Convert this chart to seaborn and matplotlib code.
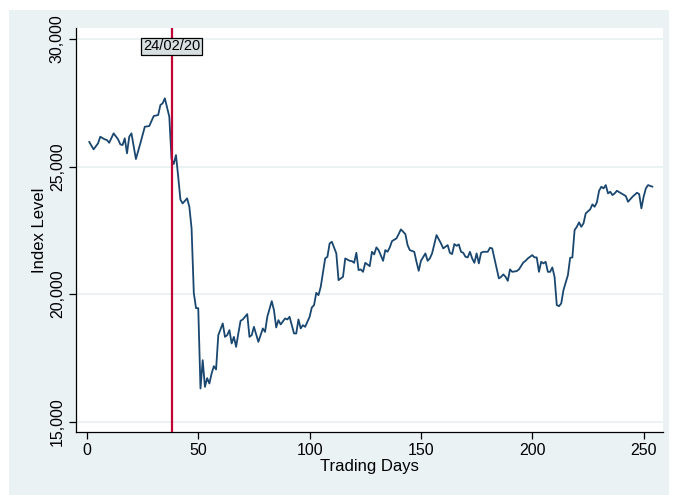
import numpy as np
import pandas as pd
import matplotlib.pyplot as plt
import matplotlib.transforms as mtransforms
from matplotlib.patches import Rectangle
import seaborn as sns

# -------------------------------
# Data
# -------------------------------
days = [1, 3, 5, 6, 8, 9, 10, 12, 14, 15, 16, 17, 18, 19, 20, 22, 24, 26, 28, 30,
        32, 33, 34, 35, 37, 38, 39, 40, 41, 42, 43, 45, 46, 47, 48, 49, 50, 51, 52, 53,
        54, 55, 56, 57, 58, 59, 61, 62, 63, 64, 65, 66, 67, 68, 69, 70, 72, 73, 74, 75,
        77, 79, 80, 81, 83, 84, 85, 86, 87, 89, 90, 91, 92, 93, 94, 95, 96, 97, 98, 100,
        101, 102, 103, 104, 105, 107, 108, 109, 110, 112, 113, 115, 116, 118, 119, 120, 121, 122, 123, 124,
        125, 127, 128, 129, 130, 131, 133, 134, 135, 136, 137, 139, 140, 141, 143, 144, 145, 147, 148, 149,
        150, 152, 153, 154, 155, 157, 159, 160, 162, 163, 164, 165, 166, 167, 168, 169, 170, 171, 172, 173,
        174, 175, 176, 177, 178, 180, 181, 182, 183, 185, 186, 187, 188, 189, 190, 191, 193, 194, 196, 197,
        198, 200, 201, 202, 203, 204, 205, 206, 207, 208, 209, 210, 211, 212, 213, 214, 216, 217, 218, 219,
        220, 221, 222, 223, 224, 226, 227, 228, 229, 230, 231, 232, 233, 234, 235, 236, 237, 238, 240, 242,
        243, 245, 247, 248, 249, 250, 251, 252, 254]

index_level = [25973, 25674, 25910, 26169, 26067, 26039, 25933, 26302, 26067, 25871,
               25843, 26106, 25518, 26169, 26302, 25294, 25910, 26561, 26588, 26980,
               27020, 27412, 27478, 27675, 26953, 25300, 25100, 25451, 24600, 23700,
               23557, 23753, 23423, 22576, 20050, 19450, 19450, 16302, 17412, 16364,
               16706, 16498, 16890, 17176, 17047, 18392, 18851, 18325, 18392, 18588,
               18067, 18325, 17933, 18459, 18953, 19008, 19216, 18325, 18392, 18717,
               18129, 18655, 18521, 19110, 19725, 19373, 18694, 18980, 18812, 19047,
               19008, 19110, 18784, 18459, 18459, 19008, 18655, 18784, 18717, 19110,
               19478, 19569, 20051, 19961, 20286, 21400, 21463, 21988, 22051, 21596,
               20549, 20678, 21400, 21306, 21294, 21227, 21620, 20941, 20968, 20874,
               21227, 21098, 21659, 21557, 21831, 21725, 21306, 21725, 21659, 21831,
               22078, 22184, 22353, 22537, 22353, 21922, 21725, 21659, 21267, 20914,
               21306, 21596, 21306, 21400, 21596, 22314, 21988, 21792, 21922, 21620,
               21569, 21961, 21894, 21949, 21659, 21620, 21463, 21439, 21659, 21400,
               21227, 21596, 21204, 21620, 21659, 21659, 21816, 21792, 21400, 20616,
               20678, 20772, 20678, 20521, 20968, 20874, 20902, 20968, 21243, 21306,
               21400, 21529, 21439, 21439, 20874, 21267, 21204, 21267, 20874, 20874,
               21047, 20678, 19569, 19529, 19635, 20157, 20745, 21423, 21439, 22510,
               22639, 22812, 22639, 22773, 23165, 23322, 23518, 23424, 23596, 24051,
               24208, 24145, 24274, 23949, 24012, 23882, 23949, 24051, 23949, 23843,
               23620, 23816, 23973, 23922, 23361, 23816, 24145, 24274, 24208]

event_day = 38
event_label = "24/02/20"

x_ticks = [0, 50, 100, 150, 200, 250]
y_ticks = [15000, 20000, 25000, 30000]

df = pd.DataFrame({"Trading Days": days, "Index Level": index_level})

# -------------------------------
# Stata-like style
# -------------------------------
sns.set_style("white")
plt.rcParams["font.family"] = ["Liberation Sans", "DejaVu Sans"]

bg = "#eaf2f3"
navy = "#1a476f"
cranberry = "#c10534"

fig = plt.figure(figsize=(6.76, 4.95), dpi=100, facecolor="white")
frame = Rectangle((9 / 676, 0), 660 / 676, 485 / 495,
                  transform=fig.transFigure, facecolor=bg,
                  edgecolor="none", zorder=-10)
fig.patches.append(frame)
ax = fig.add_axes([76 / 676, 63 / 495, 587 / 676, 404 / 495])
ax.set_facecolor("white")

sns.lineplot(data=df, x="Trading Days", y="Index Level", color=navy,
             linewidth=1.3, ax=ax, zorder=3)

ax.axvline(event_day, color=cranberry, linewidth=1.6, zorder=4)
trans = mtransforms.blended_transform_factory(ax.transData, ax.transAxes)
ax.text(event_day, 0.955, event_label, transform=trans, ha="center", va="center",
        fontsize=10.5, color="black", zorder=5,
        bbox=dict(boxstyle="square,pad=0.1", facecolor="#d8dfe0",
                  edgecolor="black", linewidth=0.9))

ax.set_xlim(-4.9, 258.7)
ax.set_ylim(14596, 30431)
ax.set_xticks(x_ticks)
ax.set_yticks(y_ticks)
ax.set_yticklabels([f"{v:,}" for v in y_ticks], rotation=90, va="center")
ax.yaxis.grid(True, color=bg, linewidth=1.4)
ax.xaxis.grid(False)
ax.set_axisbelow(True)

for side in ["top", "right"]:
    ax.spines[side].set_visible(False)
for side in ["left", "bottom"]:
    ax.spines[side].set_color("black")
    ax.spines[side].set_linewidth(0.9)

ax.tick_params(axis="both", which="major", length=5, width=0.9, color="black",
               labelsize=11.5, labelcolor="black", direction="out", pad=3, left=True, bottom=True)
ax.set_xlabel("Trading Days", fontsize=12, color="black", labelpad=1)
ax.set_ylabel("Index Level", fontsize=12, color="black", labelpad=2)

fig.savefig("out.png", dpi=100, facecolor="white")
